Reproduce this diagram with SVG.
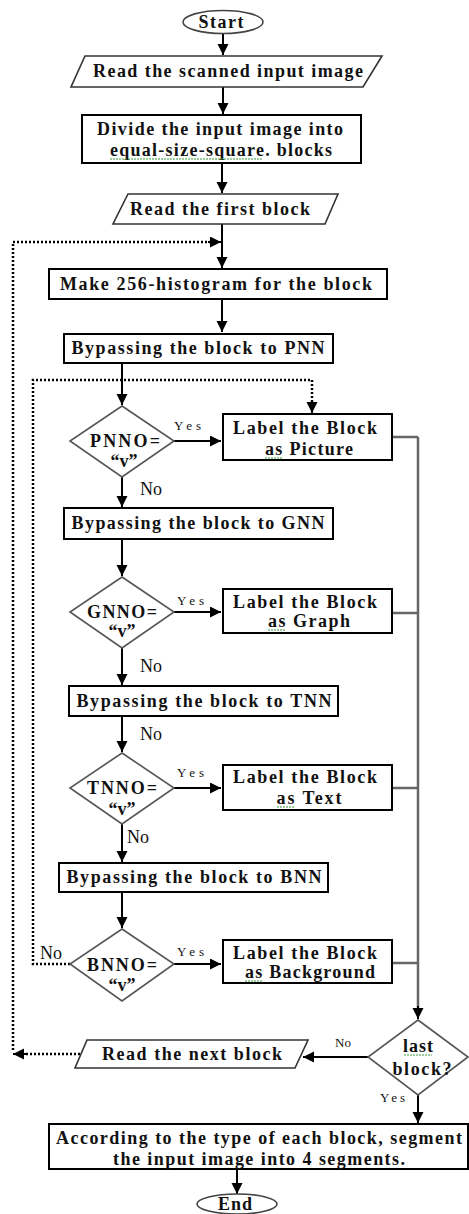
<svg xmlns="http://www.w3.org/2000/svg" width="469" height="1214" viewBox="0 0 469 1214">
<defs>
<marker id="ah" markerUnits="userSpaceOnUse" markerWidth="12" markerHeight="12" refX="11" refY="5.5" orient="auto">
<path d="M0,0 L11,5.5 L0,11 Z" fill="#000"/>
</marker>
<style>
.bx{fill:#fff;stroke:#000;stroke-width:2}
.pg{fill:#fff;stroke:#333;stroke-width:1.6}
.dm{fill:#fff;stroke:#555;stroke-width:1.6}
.el{fill:#fff;stroke:#444;stroke-width:1.6}
.t{font-family:"Liberation Serif","Times New Roman",serif;font-weight:bold;font-size:18px;fill:#111;text-anchor:middle}
.s{font-family:"Liberation Serif","Times New Roman",serif;font-size:13px;fill:#111}
.n{font-family:"Liberation Serif","Times New Roman",serif;font-size:18px;fill:#111}
.c{fill:none;stroke:#000;stroke-width:2}
.g{fill:none;stroke:#666;stroke-width:2.5}
.d{fill:none;stroke:#000;stroke-width:2.5;stroke-dasharray:2 2}
.w{fill:none;stroke:#3a9a3a;stroke-width:1.2;stroke-dasharray:2 1}
</style>
</defs>
<g id="connectors">
<path class="c" d="M223,33 V55" marker-end="url(#ah)"/>
<path class="c" d="M223,87 V114" marker-end="url(#ah)"/>
<path class="c" d="M222,163 V193" marker-end="url(#ah)"/>
<path class="c" d="M222,224 V268" marker-end="url(#ah)"/>
<path class="c" d="M222,299 V332" marker-end="url(#ah)"/>
<path class="c" d="M122,363 V405" marker-end="url(#ah)"/>
<path class="c" d="M174,441 H221" marker-end="url(#ah)"/>
<path class="c" d="M122,477 V507" marker-end="url(#ah)"/>
<path class="c" d="M122,539 V576" marker-end="url(#ah)"/>
<path class="c" d="M174,612 H221" marker-end="url(#ah)"/>
<path class="c" d="M122,648 V685" marker-end="url(#ah)"/>
<path class="c" d="M122,716 V752" marker-end="url(#ah)"/>
<path class="c" d="M174,788 H221" marker-end="url(#ah)"/>
<path class="c" d="M122,824 V862" marker-end="url(#ah)"/>
<path class="c" d="M122,892 V928" marker-end="url(#ah)"/>
<path class="c" d="M174,964 H221" marker-end="url(#ah)"/>
<path class="g" d="M392,437 H418 M392,613 H418 M392,788 H418 M392,963 H418"/>
<path class="g" d="M418,437 V1008"/>
<path class="c" d="M418,1006 V1019" marker-end="url(#ah)"/>
<path class="c" d="M368,1057 H303" marker-end="url(#ah)"/>
<path class="c" d="M418,1095 V1123" marker-end="url(#ah)"/>
<path class="c" d="M237,1169 V1194" marker-end="url(#ah)"/>
<path class="d" d="M13,1050 V242 H210"/>
<path class="c" d="M208,242 H221" marker-end="url(#ah)"/>
<path class="d" d="M80,1054 H24"/>
<path class="c" d="M26,1054 H13" marker-end="url(#ah)"/>
<path class="d" d="M70,964 H33 V380 H312 V402"/>
<path class="c" d="M312,400 V413" marker-end="url(#ah)"/>
</g>
<g id="start">
<ellipse class="el" cx="223" cy="22" rx="40" ry="11.5"/>
<text class="t" x="221" y="28" textLength="45">Start</text>
</g>
<g id="read-input">
<polygon class="pg" points="85,56 382,56 363,87 71,87"/>
<text class="t" x="228" y="77" textLength="270">Read the scanned input image</text>
</g>
<g id="divide">
<rect class="bx" x="82" y="115" width="279" height="48"/>
<text class="t" x="220" y="135" textLength="246">Divide the input image into</text>
<text class="t" x="221" y="156" textLength="222">equal-size-square. blocks</text>
<path class="w" d="M110,159 H262"/>
</g>
<g id="read-first">
<polygon class="pg" points="128,194 338,194 325,224 113,224"/>
<text class="t" x="220" y="215" textLength="180">Read the first block</text>
</g>
<g id="histogram">
<rect class="bx" x="49" y="269" width="338" height="30"/>
<text class="t" x="216" y="290" textLength="312">Make 256-histogram for the block</text>
</g>
<g id="pnn">
<rect class="bx" x="64" y="334" width="269" height="29"/>
<text class="t" x="198" y="354" textLength="253">Bypassing the block to PNN</text>
</g>
<g id="pnno">
<polygon class="dm" points="122,406 174,441 122,477 70,441"/>
<text class="t" x="125" y="447" textLength="70">PNNO=</text>
<text class="t" x="124" y="467">“v”</text>
<text class="s" x="174" y="430" textLength="27">Yes</text>
<text class="n" x="140" y="495">No</text>
</g>
<g id="label-picture">
<rect class="bx" x="223" y="414" width="169" height="46"/>
<text class="t" x="305" y="434" textLength="144">Label the Block</text>
<text class="t" x="309" y="455" textLength="88">as Picture</text>
<path class="w" d="M265,458 H282"/>
</g>
<g id="gnn">
<rect class="bx" x="64" y="508" width="269" height="31"/>
<text class="t" x="198" y="529" textLength="253">Bypassing the block to GNN</text>
</g>
<g id="gnno">
<polygon class="dm" points="122,577 174,612 122,648 70,612"/>
<text class="t" x="122" y="618" textLength="70">GNNO=</text>
<text class="t" x="122" y="637">“v”</text>
<text class="s" x="177" y="605" textLength="27">Yes</text>
<text class="n" x="140" y="672">No</text>
</g>
<g id="label-graph">
<rect class="bx" x="223" y="589" width="169" height="44"/>
<text class="t" x="305" y="608" textLength="144">Label the Block</text>
<text class="t" x="309" y="627" textLength="82">as Graph</text>
<path class="w" d="M268,630 H285"/>
</g>
<g id="tnn">
<rect class="bx" x="69" y="686" width="269" height="30"/>
<text class="t" x="204" y="707" textLength="255">Bypassing the block to TNN</text>
<text class="n" x="140" y="740">No</text>
</g>
<g id="tnno">
<polygon class="dm" points="122,753 174,788 122,824 70,788"/>
<text class="t" x="122" y="794" textLength="70">TNNO=</text>
<text class="t" x="122" y="815">“v”</text>
<text class="s" x="177" y="777" textLength="27">Yes</text>
<text class="n" x="127" y="843">No</text>
</g>
<g id="label-text">
<rect class="bx" x="223" y="765" width="169" height="45"/>
<text class="t" x="305" y="783" textLength="144">Label the Block</text>
<text class="t" x="309" y="804" textLength="65">as Text</text>
<path class="w" d="M277,807 H294"/>
</g>
<g id="bnn">
<rect class="bx" x="59" y="863" width="269" height="29"/>
<text class="t" x="194" y="883" textLength="255">Bypassing the block to BNN</text>
</g>
<g id="bnno">
<polygon class="dm" points="122,929 174,964 122,1001 70,964"/>
<text class="t" x="122" y="971" textLength="70">BNNO=</text>
<text class="t" x="122" y="991">“v”</text>
<text class="s" x="177" y="956" textLength="27">Yes</text>
<text class="n" x="40" y="959">No</text>
</g>
<g id="label-background">
<rect class="bx" x="223" y="940" width="169" height="43"/>
<text class="t" x="305" y="959" textLength="144">Label the Block</text>
<text class="t" x="310" y="978" textLength="130">as Background</text>
<path class="w" d="M245,981 H262"/>
</g>
<g id="last-block">
<polygon class="dm" points="418,1020 468,1057 418,1095 368,1057"/>
<text class="t" x="418" y="1052" textLength="30">last</text>
<text class="t" x="422" y="1075" textLength="59">block?</text>
<path class="w" d="M404,1055 H432"/>
<text class="s" x="335" y="1047">No</text>
<text class="s" x="380" y="1102" textLength="25">Yes</text>
</g>
<g id="read-next">
<polygon class="pg" points="87,1040 308,1040 295,1068 75,1068"/>
<text class="t" x="192" y="1060" textLength="180">Read the next block</text>
</g>
<g id="segment">
<rect class="bx" x="49" y="1124" width="419" height="45"/>
<text class="t" x="259" y="1144" textLength="406">According to the type of each block, segment</text>
<text class="t" x="259" y="1165" textLength="292">the input image into 4 segments.</text>
</g>
<g id="end">
<ellipse class="el" cx="237" cy="1204" rx="40" ry="10"/>
<text class="t" x="235" y="1210" textLength="34">End</text>
</g>
</svg>
